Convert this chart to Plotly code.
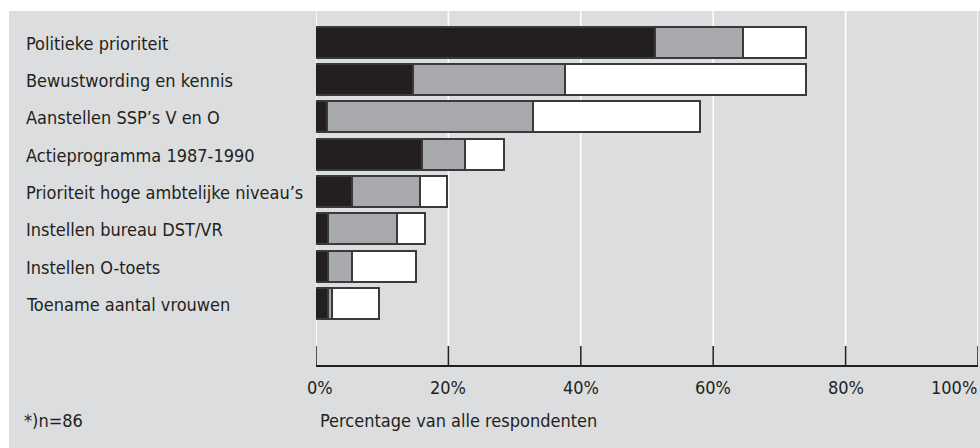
import plotly.graph_objects as go

categories = [
    "Politieke prioriteit",
    "Bewustwording en kennis",
    "Aanstellen SSP\u2019s V en O",
    "Actieprogramma 1987-1990",
    "Prioriteit hoge ambtelijke niveau\u2019s",
    "Instellen bureau DST/VR",
    "Instellen O-toets",
    "Toename aantal vrouwen",
]
black_vals = [51.3, 14.8, 1.8, 16.2, 5.6, 2.0, 2.0, 2.0]
gray_vals = [13.3, 23.0, 31.1, 6.5, 10.2, 10.4, 3.6, 0.6]
white_vals = [9.5, 36.3, 25.2, 5.9, 4.1, 4.2, 9.7, 7.1]
tick_vals = [0, 20, 40, 60, 80, 100]
tick_text = ["0%", "20%", "40%", "60%", "80%", "100%"]
note_text = "*)n=86"
axis_title = "Percentage van alle respondenten"

FONT = "DejaVu Sans Condensed, Roboto, sans-serif"
FS = 18
INK = "#231f20"
BG = "#dcdddf"
W, H = 980, 448
L, R, T, B = 316, 2, 11, 83
pw = W - L - R
ph = H - T - B

ypos = list(range(len(categories)))

fig = go.Figure()
for vals, col in [(black_vals, "#231f20"), (gray_vals, "#a7a9ac"), (white_vals, "#ffffff")]:
    fig.add_trace(go.Bar(
        y=ypos, x=vals, orientation="h", width=0.83,
        marker=dict(color=col, line=dict(color="#3a3a3a", width=1.6)),
        hoverinfo="skip", showlegend=False,
    ))

def px_x(p):
    return (p - L) / pw

def px_y(p):
    return (H - B - p) / ph

def v_to_paper(v):
    return (v - 0) / 100.0

shapes = [dict(type="rect", xref="paper", yref="paper",
               x0=px_x(9), x1=px_x(980), y0=px_y(448), y1=px_y(11),
               fillcolor=BG, line=dict(width=0), layer="below")]
for v in tick_vals:
    shapes.append(dict(type="line", xref="x", yref="paper", x0=v, x1=v,
                       y0=px_y(346), y1=1, line=dict(color="white", width=1.6),
                       layer="below"))
    shapes.append(dict(type="line", xref="x", yref="paper", x0=v, x1=v,
                       y0=0, y1=px_y(346), line=dict(color=INK, width=1.5),
                       layer="above"))

annotations = []
for i, c in enumerate(categories):
    annotations.append(dict(x=px_x(24), xref="paper", y=i, yref="y", text=c,
                            xanchor="left", yanchor="middle", showarrow=False,
                            font=dict(family=FONT, size=FS, color=INK)))
for v, t in zip(tick_vals, tick_text):
    anchor = "right" if v == tick_vals[-1] else "center"
    xx = v_to_paper(v) + (0.006 if v == tick_vals[0] else 0.002 if v == tick_vals[-1] else 0)
    annotations.append(dict(x=xx, xref="paper", y=px_y(388), yref="paper", text=t,
                            xanchor=anchor, yanchor="middle", showarrow=False,
                            font=dict(family=FONT, size=FS, color=INK)))
annotations.append(dict(x=px_x(318), xref="paper", y=px_y(420), yref="paper", text=axis_title,
                        xanchor="left", yanchor="middle", showarrow=False,
                        font=dict(family=FONT, size=FS, color=INK)))
annotations.append(dict(x=px_x(22), xref="paper", y=px_y(420), yref="paper", text=note_text,
                        xanchor="left", yanchor="middle", showarrow=False,
                        font=dict(family=FONT, size=FS, color=INK)))

fig.update_layout(
    width=W, height=H,
    margin=dict(l=L, r=R, t=T, b=B, pad=0),
    paper_bgcolor="white", plot_bgcolor=BG,
    barmode="stack", bargap=0,
    shapes=shapes, annotations=annotations,
    xaxis=dict(range=[0, 100], tickvals=tick_vals, showticklabels=False,
               showgrid=False, zeroline=False,
               showline=True, linecolor=INK, linewidth=1.5, ticks="",
               fixedrange=True),
    yaxis=dict(range=[7 + 1.62, -0.86], showticklabels=False, showgrid=False,
               zeroline=False, showline=False, fixedrange=True),
)

fig.write_html("out.html", config={"displayModeBar": False},
               post_script="document.body.style.margin='0';document.body.style.padding='0';")
